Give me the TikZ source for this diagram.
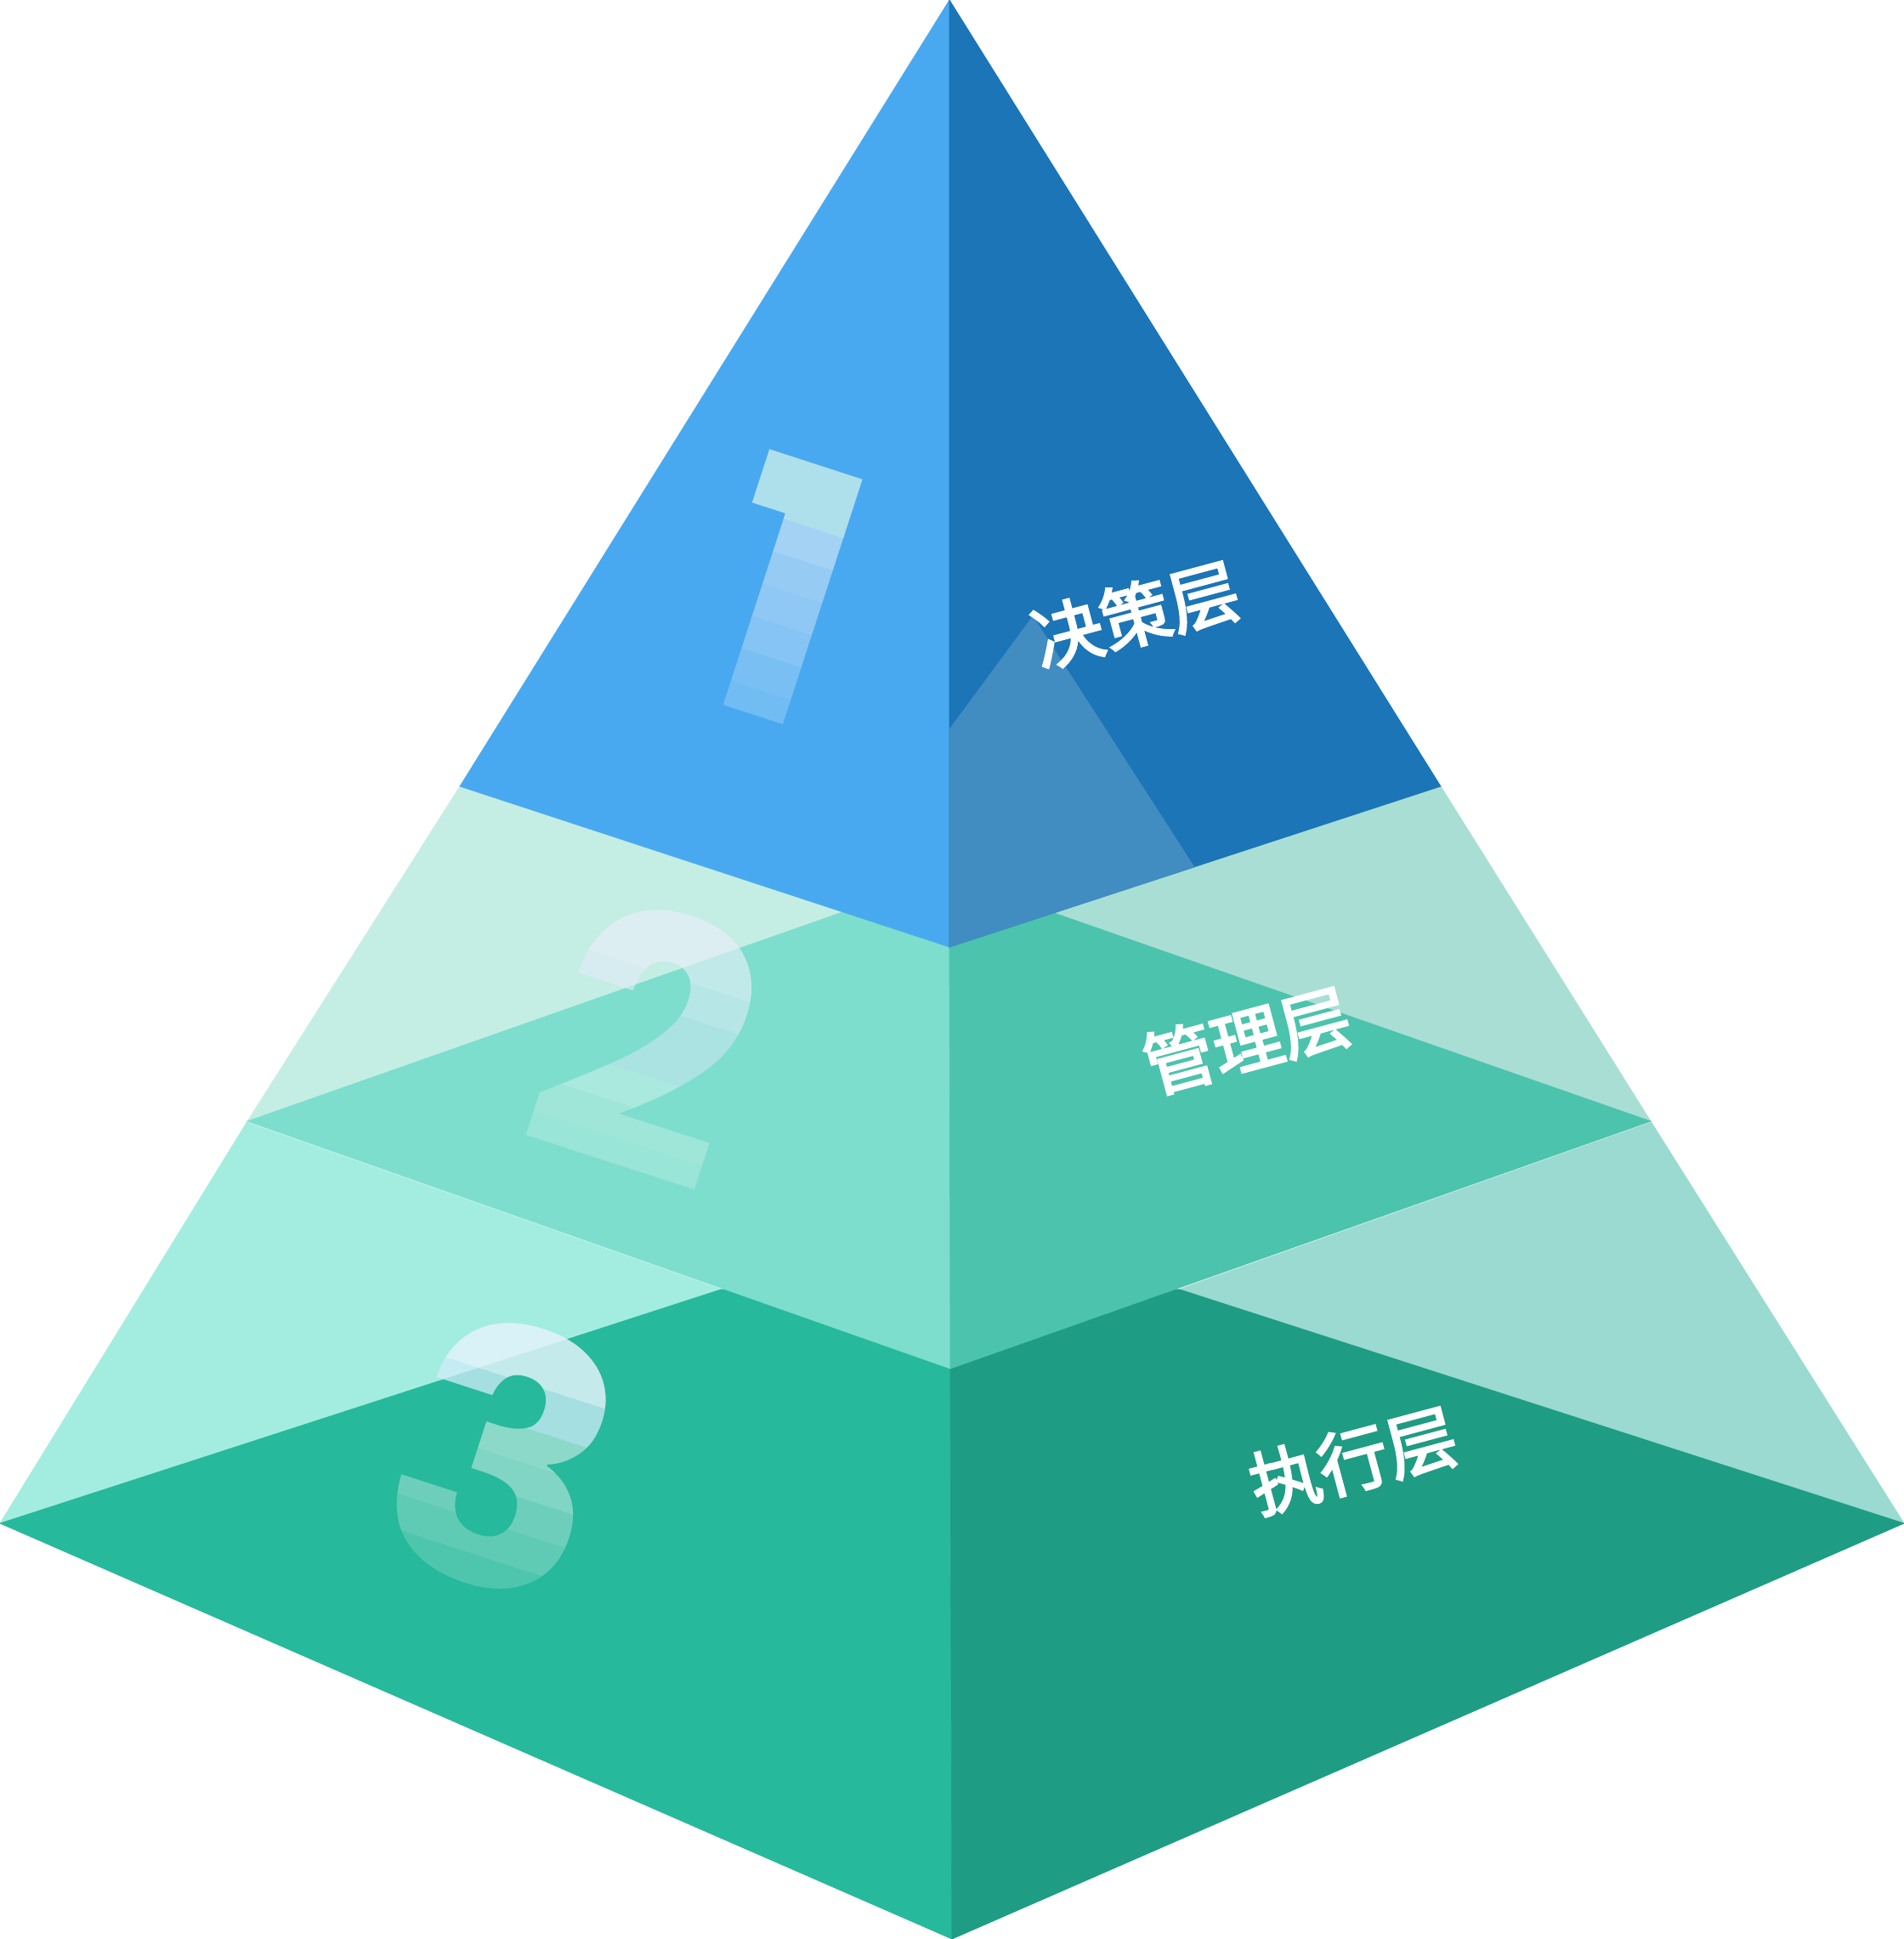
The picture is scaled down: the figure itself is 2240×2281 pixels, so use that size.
\documentclass[tikz,border=0pt]{standalone}
\usepackage{fontspec}
\newfontfamily\cjk{Noto Sans CJK SC}[FakeBold=3]
\newfontfamily\digitfont{Poppins}
\definecolor{fA}{HTML}{49A9F0}
\definecolor{fB}{HTML}{1B75B6}
\definecolor{fOv}{HTML}{418DC2}
\definecolor{mLL}{HTML}{C4EEE4}
\definecolor{mL}{HTML}{7DDECD}
\definecolor{mRL}{HTML}{A9DED5}
\definecolor{mR}{HTML}{4CC3AD}
\definecolor{bLL}{HTML}{A3EDE0}
\definecolor{bL}{HTML}{26B99B}
\definecolor{bRL}{HTML}{9ADAD0}
\definecolor{bR}{HTML}{1F9C84}
\definecolor{tintA}{HTML}{BEF5E1}
\definecolor{tintB}{HTML}{B0C8FA}
\definecolor{tintC}{HTML}{BEE6FA}
\tikzset{
  face/.style={fill=#1, draw=#1, line width=0.2pt},
  digit/.style={inner sep=0pt, transform shape, font=\digitfont\bfseries\fontsize{118}{120}\selectfont},
  lbl/.style={inner sep=0pt, text=white, font=\cjk\fontsize{23.5}{28}\selectfont}
}
\begin{document}
\begin{tikzpicture}[x=0.01cm, y=-0.01cm]
\useasboundingbox (0,0) rectangle (2240,2281);
% key points
\coordinate (A) at (1117,0);
\coordinate (L1) at (541,925);
\coordinate (R1) at (1695,925);
\coordinate (C1) at (1117,1114);
\coordinate (L2) at (291,1319);
\coordinate (R2) at (1942,1319);
\coordinate (C2) at (1118,1610);
\coordinate (L3) at (0,1792);
\coordinate (R3) at (2240,1792);
\coordinate (C3) at (1120,2281);
\coordinate (PL1) at (994,1072);
\coordinate (PR1) at (1240,1074);
\coordinate (PL2) at (851,1516);
\coordinate (PR2) at (1385,1516);
\coordinate (OvA) at (1117,858);
\coordinate (OvB) at (1215,725);
\coordinate (OvC) at (1405,1020);
% bottom tier
\fill[face=bLL] (L2) -- (L3) -- (PL2) -- cycle;
\fill[face=bL] (PL2) -- (L3) -- (C3) -- (C2) -- cycle;
\fill[face=bRL] (R2) -- (R3) -- (PR2) -- cycle;
\fill[face=bR] (PR2) -- (R3) -- (C3) -- (C2) -- cycle;
\draw[white, opacity=0.8, line width=0.5pt] (L2) -- (PL2);
\draw[white, opacity=0.8, line width=0.5pt] (R2) -- (PR2);
% middle tier
\fill[face=mLL] (L1) -- (PL1) -- (L2) -- cycle;
\fill[face=mL] (PL1) -- (C1) -- (C2) -- (L2) -- cycle;
\fill[face=mRL] (R1) -- (R2) -- (PR1) -- cycle;
\fill[face=mR] (PR1) -- (R2) -- (C2) -- (C1) -- cycle;
% top tier
\fill[face=fA] (A) -- (L1) -- (C1) -- cycle;
\fill[face=fB] (A) -- (C1) -- (R1) -- cycle;
\fill[face=fOv] (OvA) -- (OvB) -- (OvC) -- (C1) -- cycle;
% digit 1 : stacked layers, each covering the glyph above a boundary
\begin{scope}[shift={(922,694)}, rotate=-18]
\foreach \b/\col/\op [count=\k] in {400/white/0.225, 120/white/0.058, 80/white/0.089, 40/white/0.083, 0/white/0.066, -40/white/0.14, -80/tintA/0.42} {
  \begin{scope}
    \clip (-300,-400) rectangle (300,\b);
    \node[digit, text=\col, text opacity=\op] (one-\k) at (0,0) {1};
  \end{scope}
}
\end{scope}
% digit 2
\begin{scope}[shift={(763,1224)}, rotate=-18]
\foreach \b/\col/\op [count=\k] in {400/white/0.22, 120/white/0.064, 80/white/0.123, 40/tintB/0.2, -40/white/0.15, -80/white/0.15} {
  \begin{scope}
    \clip (-300,-400) rectangle (300,\b);
    \node[digit, text=\col, text opacity=\op] (two-\k) at (0,0) {2};
  \end{scope}
}
\end{scope}
% digit 3
\begin{scope}[shift={(593,1713)}, rotate=-18]
\foreach \b/\col/\op [count=\k] in {400/white/0.19, 120/white/0.1, 80/white/0.082, 40/white/0.134, 0/white/0.103, -40/tintC/0.5, -90/white/0.35} {
  \begin{scope}
    \clip (-300,-400) rectangle (300,\b);
    \node[digit, text=\col, text opacity=\op] (three-\k) at (0,0) {3};
  \end{scope}
}
\end{scope}
% labels
\node[lbl, rotate=15] (t1) at (1336,723) {决策层};
\node[lbl, rotate=15] (t2) at (1467,1224) {管理层};
\node[lbl, rotate=15] (t3) at (1592,1718) {执行层};
\end{tikzpicture}
\end{document}
